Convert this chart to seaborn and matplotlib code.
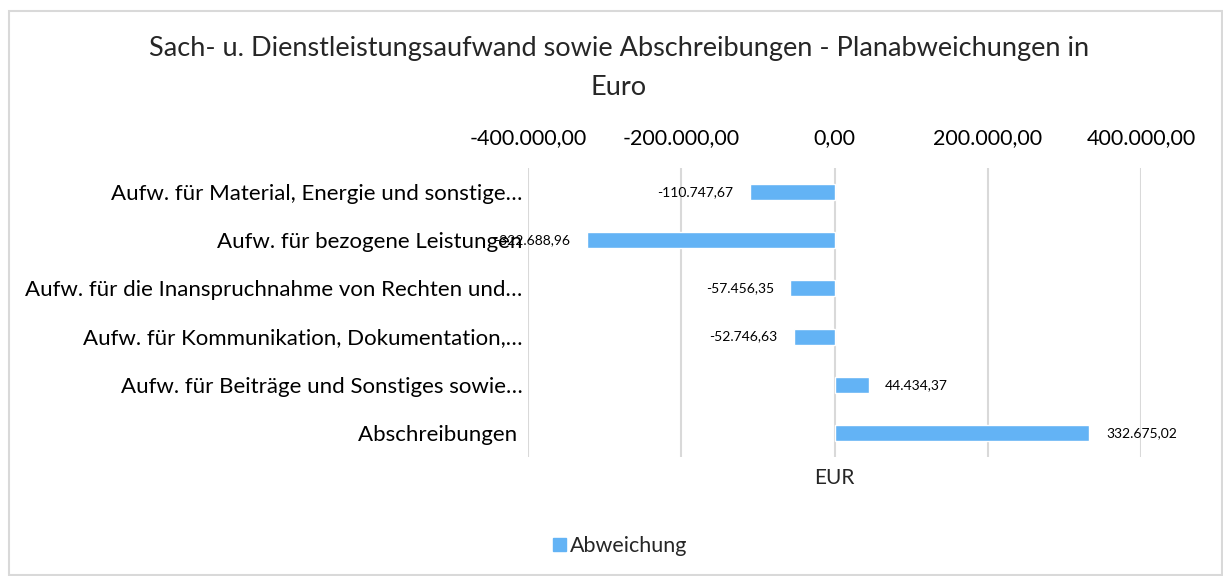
import numpy as np
import pandas as pd
import matplotlib.pyplot as plt
import seaborn as sns
from matplotlib.patches import Rectangle
from matplotlib.ticker import FuncFormatter

# values
categories = [
    "Aufw. für Material, Energie und sonstige…",
    "Aufw. für bezogene Leistungen",
    "Aufw. für die Inanspruchnahme von Rechten und…",
    "Aufw. für Kommunikation, Dokumentation,…",
    "Aufw. für Beiträge und Sonstiges sowie…",
    "Abschreibungen ",
]
abweichung = [-110747.67, -322688.96, -57456.35, -52746.63, 44434.37, 332675.02]
x_ticks = [-400000, -200000, 0, 200000, 400000]

BAR_COLOR = "#63B3F5"
GRID_COLOR = "#D9D9D9"


def de_fmt(v):
    s = f"{v:,.2f}"
    return s.replace(",", "X").replace(".", ",").replace("X", ".")


def make_chart():
    sns.set_style("white")
    plt.rcParams["font.family"] = ["Lato", "DejaVu Sans"]

    df = pd.DataFrame({"Kategorie": categories, "Abweichung": abweichung})

    fig = plt.figure(figsize=(12.23, 5.76), dpi=100)
    ax = fig.add_axes([528 / 1223, 1 - 457 / 576, 613 / 1223, 289 / 576])

    sns.barplot(data=df, x="Abweichung", y="Kategorie", color=BAR_COLOR,
                saturation=1, width=0.33, orient="h", ax=ax, zorder=3)

    ax.set_xlim(-400000, 400000)
    ax.set_xticks(x_ticks)
    ax.xaxis.set_major_formatter(FuncFormatter(lambda v, p: de_fmt(v)))
    ax.xaxis.tick_top()
    ax.tick_params(axis="x", length=0, pad=14, labelsize=15.5, colors="black")
    ax.tick_params(axis="y", length=0, pad=4, labelsize=16, colors="black")
    ax.grid(axis="x", color=GRID_COLOR, linewidth=1.5, zorder=0)
    ax.grid(axis="y", visible=False)
    for sp in ax.spines.values():
        sp.set_visible(False)

    ax.set_xlabel("EUR", fontsize=15, labelpad=8)
    ax.xaxis.set_label_position("bottom")
    ax.set_ylabel("")

    ax.bar_label(ax.containers[0], labels=[de_fmt(v) for v in abweichung],
                 padding=12, fontsize=10, color="black")

    fig.text(0.506, 1 - 36 / 576,
             "Sach- u. Dienstleistungsaufwand sowie Abschreibungen - Planabweichungen in\nEuro",
             ha="center", va="top", fontsize=19.5, linespacing=1.7)

    handle = Rectangle((0, 0), 1, 1, color=BAR_COLOR)
    fig.legend([handle], ["Abweichung"], loc="center", bbox_to_anchor=(0.507, 1 - 546 / 576),
               frameon=False, fontsize=15.5, handlelength=0.6, handleheight=0.6,
               handletextpad=0.2)

    frame = Rectangle((9 / 1223, 1 / 576), 1213 / 1223, 564 / 576, transform=fig.transFigure,
                      fill=False, edgecolor=GRID_COLOR, linewidth=1.5)
    fig.patches.append(frame)

    fig.savefig("out.png", dpi=100)


if __name__ == "__main__":
    make_chart()
